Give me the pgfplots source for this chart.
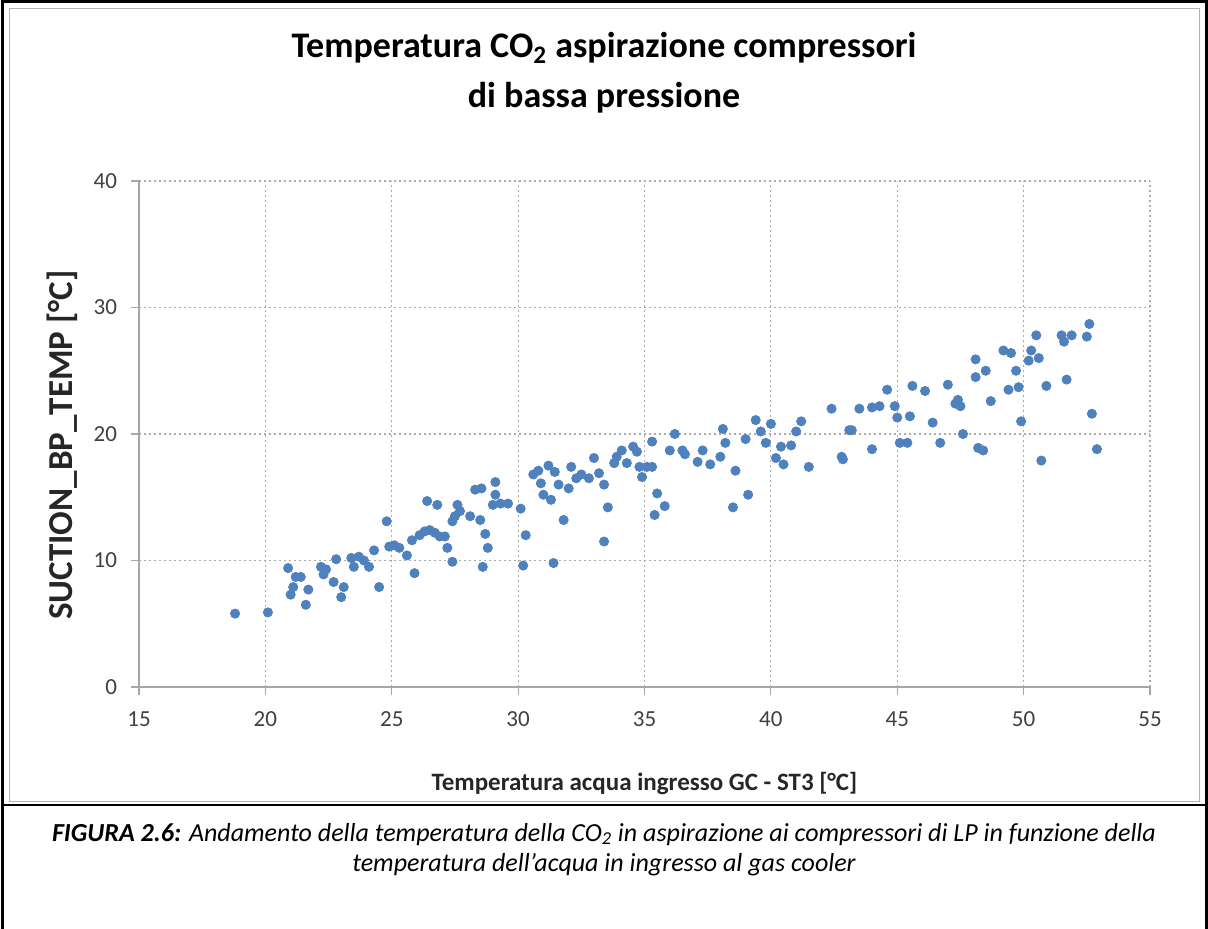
\documentclass[border=0pt]{standalone}
\usepackage{pgfplots}
\pgfplotsset{compat=1.18}
\usepackage{fontspec}
\setmainfont{Carlito}
\definecolor{dotblue}{RGB}{79,129,189}
\definecolor{gridgray}{RGB}{170,170,170}
\begin{document}
\begin{tikzpicture}
% page: 1208 x 929 px, 1 px = 0.5 pt
\useasboundingbox (0,0) rectangle (604pt,-464.5pt);
% chart area border and table frame
\draw[black!30, line width=0.5pt] (4.5pt,-4.5pt) rectangle (599.5pt,-400.5pt);
\draw[black, line width=1.5pt] (1pt,-464.5pt) -- (1pt,-1pt) -- (603pt,-1pt) -- (603pt,-464.5pt);
\draw[black, line width=1.2pt] (1pt,-402.5pt) -- (603pt,-402.5pt);

\node[anchor=base, font=\bfseries\fontsize{18}{20}\selectfont] at (302pt,-29pt)
  {Temperatura CO\textsubscript{2} aspirazione compressori};
\node[anchor=base, font=\bfseries\fontsize{18}{20}\selectfont] at (302pt,-54pt)
  {di bassa pressione};

\begin{axis}[
  at={(69.5pt,-343.5pt)}, anchor=south west,
  scale only axis, width=505.5pt, height=253pt,
  xmin=15, xmax=55, ymin=0, ymax=40,
  xtick={15,20,...,55}, ytick={0,10,20,30,40},
  axis lines*=left,
  axis line style={gray!70, line width=0.7pt},
  grid=major,
  major grid style={gridgray, dash pattern=on 1pt off 1.5pt, line width=0.6pt},
  tick align=outside, major tick length=4pt,
  tick style={gray!70, line width=0.6pt},
  /pgf/number format/assume math mode=true,
  ticklabel style={font=\fontsize{11.5}{13}\selectfont, text=black!75},
  xticklabel style={yshift=-5pt},
  yticklabel style={xshift=-3.5pt},
  xlabel={Temperatura acqua ingresso GC - ST3 [°C]},
  ylabel={SUCTION\_BP\_TEMP [°C]},
  xlabel style={at={(axis description cs:0.5,-0.19)}, anchor=center,
    font=\bfseries\fontsize{12.5}{14}\selectfont, text=black!85},
  ylabel style={at={(axis description cs:-0.076,0.478)}, anchor=center,
    font=\bfseries\fontsize{17.5}{19}\selectfont, text=black!85},
]
\addplot[only marks, mark=*, mark size=2.3pt, color=dotblue] coordinates {
(18.8,5.8) (20.1,5.9) (20.9,9.4) (21.0,7.3) (21.1,7.9) (21.2,8.7) (21.4,8.7)
(21.6,6.5) (21.7,7.7) (22.2,9.5) (22.3,8.9) (22.4,9.3) (22.7,8.3) (22.8,10.1)
(23.0,7.1) (23.1,7.9) (23.4,10.2) (23.5,9.5) (23.7,10.3) (23.9,10.0) (24.1,9.5)
(24.3,10.8) (24.5,7.9) (24.8,13.1) (24.9,11.1) (25.1,11.2) (25.3,11.0) (25.6,10.4)
(25.8,11.6) (25.9,9.0) (26.1,12.0) (26.3,12.3) (26.4,14.7) (26.5,12.4) (26.7,12.2)
(26.8,14.4) (26.9,11.9) (27.1,11.9) (27.2,11.0) (27.4,9.9) (27.4,13.1) (27.5,13.5)
(27.6,14.4) (27.7,13.9) (28.1,13.5) (28.3,15.6) (28.5,13.2) (28.55,15.7) (28.6,9.5)
(28.7,12.1) (28.8,11.0) (29.0,14.4) (29.1,15.2) (29.1,16.2) (29.3,14.5) (29.6,14.5)
(30.1,14.1) (30.2,9.6) (30.3,12.0) (30.6,16.8) (30.8,17.1) (30.9,16.1) (31.0,15.2)
(31.2,17.5) (31.3,14.8) (31.4,9.8) (31.45,17.0) (31.6,16.0) (31.8,13.2) (32.0,15.7)
(32.1,17.4) (32.3,16.5) (32.5,16.8) (32.8,16.5) (33.0,18.1) (33.2,16.9) (33.4,16.0)
(33.4,11.5) (33.55,14.2) (33.8,17.7) (33.9,18.2) (34.1,18.7) (34.3,17.7) (34.55,19.0)
(34.7,18.6) (34.8,17.4) (34.9,16.6) (35.1,17.4) (35.3,17.4) (35.3,19.4) (35.4,13.6)
(35.5,15.3) (35.8,14.3) (36.0,18.7) (36.2,20.0) (36.5,18.7) (36.6,18.4) (37.1,17.8)
(37.3,18.7) (37.6,17.6) (38.0,18.2) (38.1,20.4) (38.2,19.3) (38.5,14.2) (38.6,17.1)
(39.0,19.6) (39.1,15.2) (39.4,21.1) (39.6,20.2) (39.8,19.3) (40.0,20.8) (40.2,18.1)
(40.4,19.0) (40.5,17.6) (40.8,19.1) (41.0,20.2) (41.2,21.0) (41.5,17.4) (42.4,22.0)
(42.8,18.2) (42.85,18.0) (43.1,20.3) (43.2,20.3) (43.5,22.0) (44.0,18.8) (44.0,22.1)
(44.3,22.2) (44.6,23.5) (44.9,22.2) (45.0,21.3) (45.1,19.3) (45.4,19.3) (45.5,21.4)
(45.6,23.8) (46.1,23.4) (46.4,20.9) (46.7,19.3) (47.0,23.9) (47.3,22.4) (47.4,22.7)
(47.5,22.2) (47.6,20.0) (48.1,25.9) (48.1,24.5) (48.2,18.9) (48.4,18.7) (48.5,25.0)
(48.7,22.6) (49.2,26.6) (49.4,23.5) (49.5,26.4) (49.7,25.0) (49.8,23.7) (49.9,21.0)
(50.2,25.8) (50.3,26.6) (50.5,27.8) (50.6,26.0) (50.7,17.9) (50.9,23.8) (51.5,27.8)
(51.6,27.3) (51.7,24.3) (51.9,27.8) (52.5,27.7) (52.6,28.7) (52.7,21.6) (52.9,18.8)
};
\end{axis}

\node[anchor=base, font=\itshape\fontsize{13}{15}\selectfont] at (302pt,-420.5pt)
  {\textbf{FIGURA 2.6:} Andamento della temperatura della CO\textsubscript{2} in aspirazione ai compressori di LP in funzione della};
\node[anchor=base, font=\itshape\fontsize{13}{15}\selectfont] at (302pt,-435.5pt)
  {temperatura dell’acqua in ingresso al gas cooler};
\end{tikzpicture}
\end{document}
